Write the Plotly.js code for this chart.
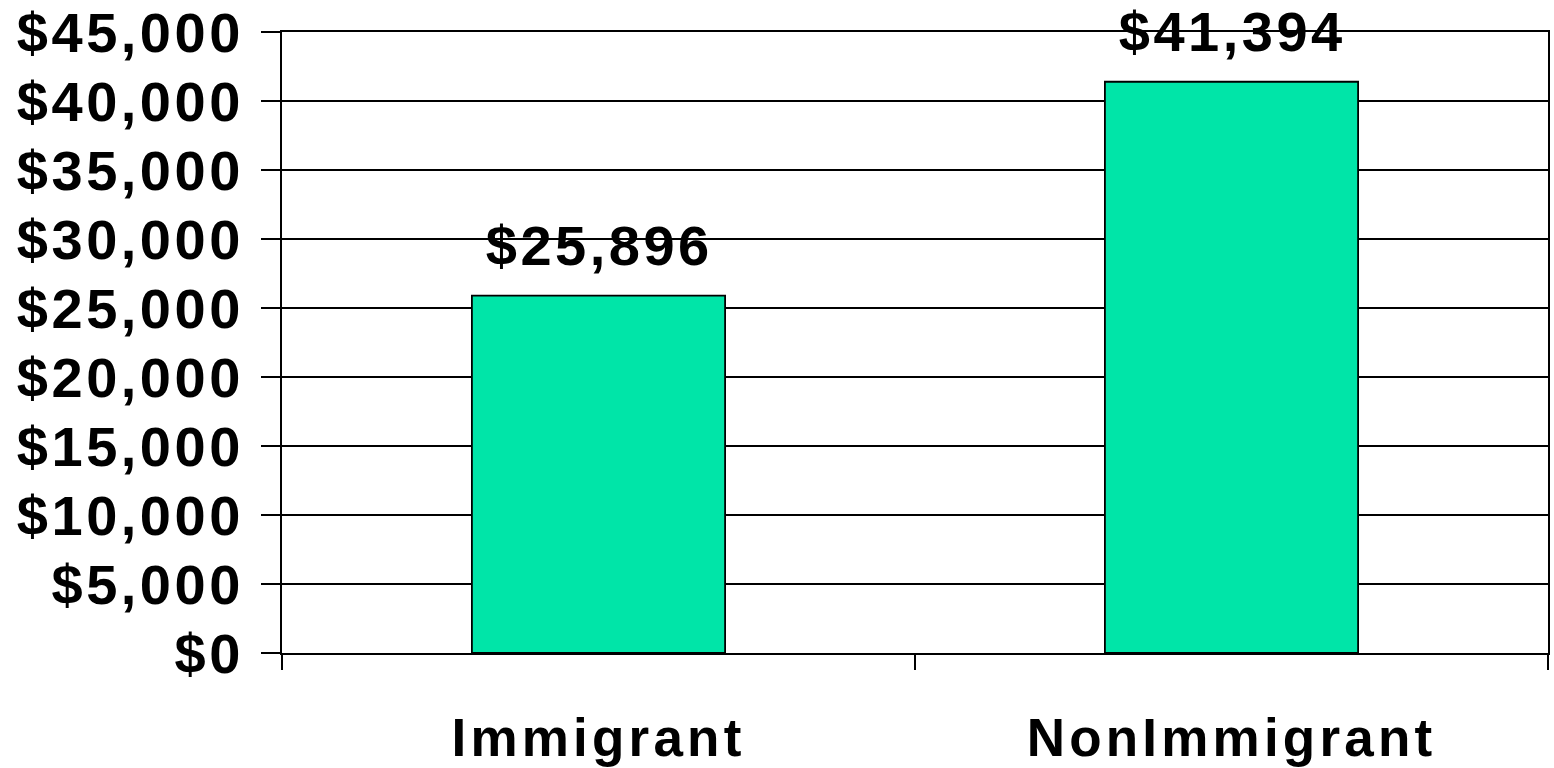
<!DOCTYPE html>
<html>
<head>
<meta charset="utf-8">
<script src="https://cdn.plot.ly/plotly-3.0.1.min.js"></script>
<style>
html,body{margin:0;padding:0;background:#fff;}
#chart{width:1554px;height:768px;}
#chart .ytick text, #chart .annotation-text {letter-spacing: 3.5px;}
#chart .xtick text {letter-spacing: 4.2px;}
</style>
</head>
<body>
<div id="chart"></div>
<script>
var categories = ["Immigrant", "NonImmigrant"];
var incomes = [25896, 41394];
var valueLabels = ["$25,896", "$41,394"];
var yTickValues = [0, 5000, 10000, 15000, 20000, 25000, 30000, 35000, 40000, 45000];
var yTickLabels = ["$0", "$5,000", "$10,000", "$15,000", "$20,000", "$25,000", "$30,000", "$35,000", "$40,000", "$45,000"];

var fontFamily = "Liberation Sans, Arial, sans-serif";

var trace = {
  type: "bar",
  x: categories,
  y: incomes,
  width: 0.4,
  marker: {color: "#00E5A8", line: {color: "#000000", width: 1.8}},
  hoverinfo: "none"
};

var annotations = categories.map(function (c, i) {
  return {
    x: c, y: incomes[i], xref: "x", yref: "y",
    text: "<b>" + valueLabels[i] + "</b>",
    showarrow: false, yanchor: "bottom", yshift: 17,
    font: {family: fontFamily, size: 56, color: "#000"}
  };
});

var layout = {
  width: 1554, height: 768,
  margin: {l: 282, r: 6, t: 32, b: 115},
  paper_bgcolor: "#fff", plot_bgcolor: "#fff",
  showlegend: false,
  xaxis: {
    type: "category",
    range: [-0.5, 1.5],
    showline: true, linecolor: "#000", linewidth: 2, mirror: true,
    ticks: "outside", tickson: "boundaries", ticklen: 15, tickwidth: 2, tickcolor: "#000",
    ticklabelstandoff: 37,
    tickfont: {family: fontFamily, size: 53, color: "#000", weight: "bold"},
    showgrid: false, zeroline: false, fixedrange: true
  },
  yaxis: {
    range: [0, 45000],
    tickvals: yTickValues,
    ticktext: yTickLabels,
    showline: true, linecolor: "#000", linewidth: 2, mirror: true,
    ticks: "outside", ticklen: 19, tickwidth: 2, tickcolor: "#000",
    ticklabelstandoff: 6,
    tickfont: {family: fontFamily, size: 56, color: "#000", weight: "bold"},
    showgrid: true, gridcolor: "#000", gridwidth: 2,
    zeroline: false, fixedrange: true
  },
  annotations: annotations
};

Plotly.newPlot("chart", [trace], layout, {displayModeBar: false, staticPlot: true});
</script>
</body>
</html>
